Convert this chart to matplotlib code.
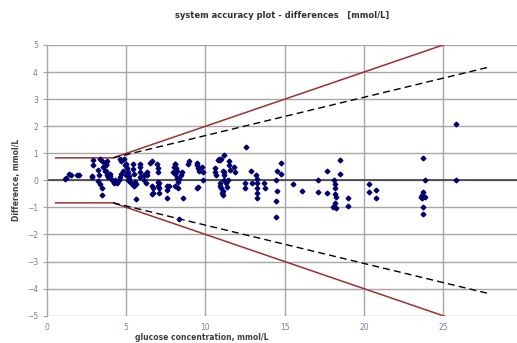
import matplotlib
matplotlib.use('Agg')
import matplotlib.pyplot as plt

# measured points: glucose concentration (mmol/L) and difference (mmol/L)
glucose = [
    1.16, 1.2, 1.41, 1.5, 1.87, 2.0,
    2.82, 2.88, 2.88, 2.85, 3.2, 3.3, 3.35, 3.45, 3.56, 3.24, 3.35, 3.49, 3.49,
    3.65, 3.72, 3.78, 3.7, 3.67, 3.72, 3.8, 3.85, 3.95, 4.0,
    4.1, 4.2, 4.3, 4.4, 4.55, 4.6, 4.7, 4.8, 4.62, 4.65, 4.9, 4.85,
    5.0, 5.05, 5.1, 5.15, 5.2, 5.0, 5.1, 5.25, 5.35, 5.45, 5.45, 5.5, 5.55, 5.6, 5.6, 5.5,
    5.87, 5.9, 5.87, 5.85, 6.1, 6.1, 6.25, 6.3, 6.3, 6.5, 6.6, 6.65, 6.7, 6.6, 6.7,
    6.95, 7.0, 7.0, 7.0, 7.0, 7.05, 7.05, 7.1,
    7.55, 7.6, 7.55, 7.7,
    7.95, 8.0, 8.05, 8.1, 8.05, 8.15, 8.2, 8.2, 8.25, 8.35, 8.45, 8.5, 8.6, 8.3, 8.1, 8.35,
    8.9, 8.95, 9.45, 9.5, 9.55, 9.6, 9.45, 9.55, 9.8, 9.85, 9.85,
    10.6, 10.6, 10.65, 10.8, 10.85, 10.95, 11.0, 11.1, 11.15, 11.2, 10.9, 10.95, 11.0,
    11.1, 11.05, 11.1, 11.2, 11.3, 11.35, 11.5, 11.5, 11.55, 11.8, 11.85, 11.2, 11.4,
    12.57, 12.5, 12.5, 12.9, 12.95, 13.2, 13.25, 13.25, 13.25, 13.25, 13.25, 13.7, 13.75,
    14.5, 14.45, 14.5, 14.45, 14.45, 14.8, 14.8,
    15.5, 16.1, 17.1, 17.1, 17.7, 17.7, 18.1, 18.15, 18.2, 18.2, 18.25, 18.2, 18.1,
    18.25, 18.05, 18.5, 18.5, 19.0, 19.0, 20.3, 20.3, 20.75, 20.75,
    23.76, 23.86, 23.75, 23.7, 23.6, 23.65, 23.85, 23.72, 23.76, 25.8, 25.8,
]
difference = [
    0.05, 0.08, 0.23, 0.2, 0.2, 0.2,
    0.17, 0.74, 0.55, 0.12, 0.39, 0.2, 0.78, 0.7, 0.49, -0.02, -0.13, -0.27, -0.55,
    0.65, 0.62, 0.7, 0.55, 0.33, 0.36, 0.2, 0.13, 0.25, 0.15,
    0.0, -0.1, 0.02, -0.1, 0.0, 0.12, 0.25, 0.35, 0.8, 0.7, 0.55, 0.8,
    0.6, 0.45, 0.3, 0.15, 0.05, 0.2, 0.0, -0.05, -0.15, 0.6, 0.42, 0.25, -0.05, -0.15, -0.7, -0.2,
    0.62, 0.5, 0.3, 0.12, 0.2, 0.0, -0.1, 0.3, 0.2, 0.65, 0.72, -0.2, -0.3, -0.5, -0.45,
    0.62, 0.45, 0.3, -0.05, -0.2, -0.3, -0.45, -0.1,
    -0.35, -0.2, -0.65, -0.2,
    0.3, 0.5, 0.6, 0.62, 0.25, 0.45, 0.35, 0.1, -0.05, 0.05, 0.2, 0.3, -0.66, -0.3, -0.2, -1.44,
    0.6, 0.7, 0.65, 0.55, 0.45, 0.35, -0.3, -0.25, 0.5, 0.3, 0.0,
    0.45, 0.3, 0.2, 0.75, 0.8, 0.75, 0.8, 0.35, 0.3, 0.2, -0.1, -0.2, -0.3,
    -0.4, -0.45, -0.55, 0.94, -0.1, -0.25, 0.7, 0.55, 0.4, 0.5, 0.3, 0.0, 0.0,
    1.23, -0.1, -0.3, 0.35, -0.1, 0.2, 0.05, -0.1, -0.3, -0.48, -0.67, -0.1, -0.3,
    0.35, 0.0, -0.4, -0.76, -1.35, 0.65, 0.22,
    -0.15, -0.4, 0.02, -0.42, 0.34, -0.45, 0.02, -0.13, -0.3, -0.52, -0.6, -0.85, -0.95,
    -1.03, -0.98, 0.76, 0.22, -0.67, -0.95, -0.15, -0.44, -0.34, -0.67,
    0.84, 0.02, -0.42, -0.55, -0.6, -0.67, -0.6, -0.98, -1.23, 2.07, 0.02,
]

# limit lines (upper halves; lower ones are mirrored)
limit_x = [0.55, 4.17, 25.6]
limit_y = [0.83, 0.83, 5.12]
dash_x = [4.17, 27.8]
dash_y = [0.83, 4.17]

x_ticks = [0, 5, 10, 15, 20, 25]
y_ticks = [-5, -4, -3, -2, -1, 0, 1, 2, 3, 4, 5]

fig = plt.figure(figsize=(5.17, 3.43), dpi=100)
ax = fig.add_axes([47 / 517, 1 - 315.7 / 343, 470 / 517, (315.7 - 45) / 343])

grid_col = '#a6a6a6'
for xv in x_ticks[1:]:
    ax.axvline(xv, color=grid_col, lw=1.0, zorder=1)
for yv in y_ticks:
    ax.axhline(yv, color=grid_col, lw=1.0, zorder=1)
ax.axhline(0, color='#404040', lw=1.2, zorder=2)

red = '#9c3030'
ax.plot(limit_x, limit_y, color=red, lw=1.1, zorder=3)
ax.plot(limit_x, [-v for v in limit_y], color=red, lw=1.1, zorder=3)
ax.plot(dash_x, dash_y, color='black', lw=1.0, ls=(0, (5, 3)), zorder=3)
ax.plot(dash_x, [-v for v in dash_y], color='black', lw=1.0, ls=(0, (5, 3)), zorder=3)

ax.plot(glucose, difference, ls='none', marker='D', ms=2.4, color='#000070',
        markeredgecolor='#000070', zorder=4, clip_on=False)

ax.set_xlim(0, 29.67)
ax.set_ylim(-5, 5)
ax.set_xticks(x_ticks)
ax.set_yticks(y_ticks)
tick_col = '#8a76a8'
ax.tick_params(axis='both', labelsize=5.5, colors=tick_col, length=3, width=0.8)
ax.tick_params(axis='x', length=0, pad=5)
ax.tick_params(axis='y', color=grid_col)
for side in ['top', 'right', 'bottom']:
    ax.spines[side].set_visible(False)
ax.spines['left'].set_color(grid_col)
ax.spines['left'].set_linewidth(1.0)

ax.set_ylabel('Difference, mmol/L', fontsize=5.5, fontweight='bold',
              color='#404040', labelpad=4)
fig.text(0.39, 1 - 337.5 / 343, 'glucose concentration, mmol/L', ha='center',
         va='center', fontsize=5.5, fontweight='bold', color='#404040')
fig.text(0.545, 0.955, 'system accuracy plot - differences   [mmol/L]', ha='center',
         va='center', fontsize=6, fontweight='bold', color='#303030')

fig.savefig('out.png', dpi=100)
